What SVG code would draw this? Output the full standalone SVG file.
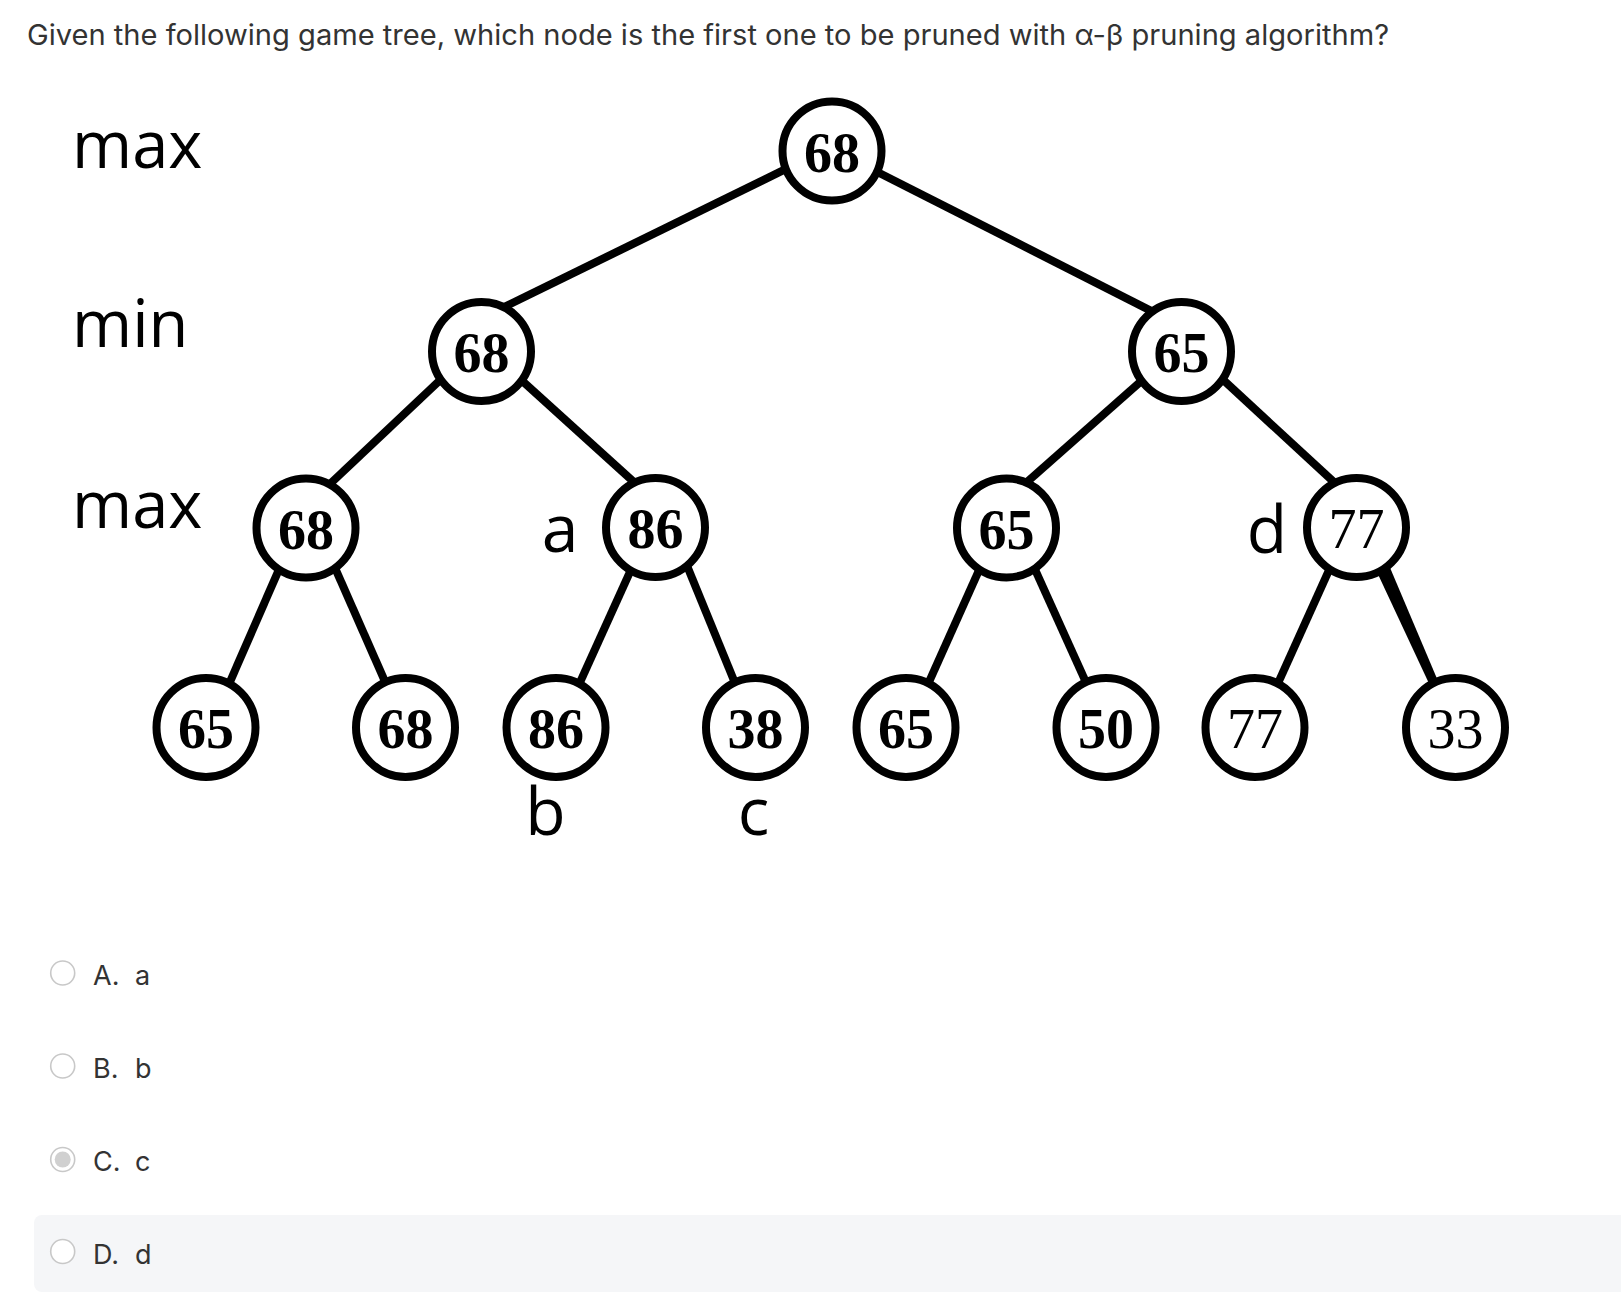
<svg xmlns="http://www.w3.org/2000/svg" width="1621" height="1304" viewBox="0 0 1621 1304">
<style>
.edge{stroke:#000;stroke-width:8;fill:none;stroke-linecap:butt}
.node circle{fill:#fff;stroke:#000;stroke-width:8}
.num{font-family:"Liberation Serif","Times New Roman",serif;font-weight:bold;font-size:56px;text-anchor:middle;fill:#000}
.reg{font-weight:normal}
.lvl{font-family:"Open Sans","Noto Sans",sans-serif;font-size:65px;fill:#000}
.lab{font-family:"Open Sans","Noto Sans",sans-serif;font-size:66px;fill:#000;text-anchor:middle}
.ui{font-family:Inter,"Noto Sans",sans-serif;fill:#333}
.radio{fill:#fff;stroke:#c8c8c8;stroke-width:1.6}
</style>
<rect x="0" y="0" width="1621" height="1304" fill="#fff"/>
<text class="ui" x="27" y="45" font-size="28" textLength="1362" lengthAdjust="spacingAndGlyphs">Given the following game tree, which node is the first one to be pruned with α-β pruning algorithm?</text>
<g id="levels">
<text class="lvl" x="72" y="168">max</text>
<text class="lvl" x="72" y="347">min</text>
<text class="lvl" x="72" y="528">max</text>
</g>
<g id="connectors">
<line class="edge" x1="791.6" y1="166.2" x2="499.3" y2="309.4"/>
<line class="edge" x1="871.9" y1="169.2" x2="1158.5" y2="314.6"/>
<line class="edge" x1="444.3" y1="376.1" x2="323.7" y2="489.9"/>
<line class="edge" x1="519.3" y1="378.3" x2="639.1" y2="486.7"/>
<line class="edge" x1="1144.7" y1="378" x2="1024.2" y2="484.6"/>
<line class="edge" x1="1220.9" y1="377.8" x2="1339" y2="486.8"/>
<line class="edge" x1="281.3" y1="564.1" x2="229" y2="684.2"/>
<line class="edge" x1="332.7" y1="562.6" x2="386.6" y2="685.2"/>
<line class="edge" x1="633.5" y1="564.2" x2="579.2" y2="684.1"/>
<line class="edge" x1="686.2" y1="563.7" x2="735.5" y2="684.3"/>
<line class="edge" x1="982.4" y1="562.6" x2="927.6" y2="685.1"/>
<line class="edge" x1="1032.6" y1="564.2" x2="1086.8" y2="684.1"/>
<line class="edge" x1="1332.4" y1="562.6" x2="1277.6" y2="684.1"/>
<polygon points="1387.4,561.4 1374.6,567 1431.7,689.2 1439.9,685.6" fill="#000"/>
</g>
<g id="root" class="node"><circle cx="832" cy="151" r="49.5"/><text class="num" x="832" y="172">68</text></g>
<g id="min-left" class="node"><circle cx="481.5" cy="351.5" r="49.5"/><text class="num" x="481.5" y="372">68</text></g>
<g id="min-right" class="node"><circle cx="1181.5" cy="351.5" r="49.5"/><text class="num" x="1181.5" y="372">65</text></g>
<g id="max-1" class="node"><circle cx="306" cy="528" r="49.5"/><text class="num" x="306" y="548.5">68</text></g>
<g id="max-a" class="node"><circle cx="655.5" cy="527.5" r="49.5"/><text class="num" x="655.5" y="548">86</text><text class="lab" x="560" y="552">a</text></g>
<g id="max-3" class="node"><circle cx="1006.5" cy="528" r="49.5"/><text class="num" x="1006.5" y="548.5">65</text></g>
<g id="max-d" class="node"><circle cx="1356.5" cy="527.5" r="49.5"/><text class="num reg" x="1356.5" y="548">77</text><text class="lab" x="1267" y="553">d</text></g>
<g id="leaf-1" class="node"><circle cx="206" cy="727.5" r="49.5"/><text class="num" x="206" y="748">65</text></g>
<g id="leaf-2" class="node"><circle cx="405.5" cy="727.5" r="49.5"/><text class="num" x="405.5" y="748">68</text></g>
<g id="leaf-b" class="node"><circle cx="556" cy="727.5" r="49.5"/><text class="num" x="556" y="748">86</text><text class="lab" x="545.5" y="835">b</text></g>
<g id="leaf-c" class="node"><circle cx="755.5" cy="727.5" r="49.5"/><text class="num" x="755.5" y="748">38</text><text class="lab" x="753.5" y="835">c</text></g>
<g id="leaf-5" class="node"><circle cx="906" cy="727.5" r="49.5"/><text class="num" x="906" y="748">65</text></g>
<g id="leaf-6" class="node"><circle cx="1106" cy="727.5" r="49.5"/><text class="num" x="1106" y="748">50</text></g>
<g id="leaf-7" class="node"><circle cx="1255" cy="727.5" r="49.5"/><text class="num reg" x="1255" y="748">77</text></g>
<g id="leaf-8" class="node"><circle cx="1455.5" cy="727.5" r="49.5"/><text class="num reg" x="1455.5" y="748">33</text></g>
<g id="options">
<rect x="34" y="1215" width="1620" height="77" rx="8" fill="#f5f6f8"/>
<circle class="radio" cx="62.7" cy="973" r="12"/>
<text class="ui" x="93" y="985" font-size="27">A.</text><text class="ui" x="135" y="985" font-size="27">a</text>
<circle class="radio" cx="62.7" cy="1066" r="12"/>
<text class="ui" x="93" y="1078" font-size="27">B.</text><text class="ui" x="135" y="1078" font-size="27">b</text>
<circle class="radio" cx="62.7" cy="1159.5" r="12"/>
<circle cx="62.7" cy="1159.5" r="8" fill="#d0d0d0"/>
<text class="ui" x="93" y="1171" font-size="27">C.</text><text class="ui" x="135" y="1171" font-size="27">c</text>
<circle class="radio" cx="62.7" cy="1251.5" r="12"/>
<text class="ui" x="93" y="1264" font-size="27">D.</text><text class="ui" x="135" y="1264" font-size="27">d</text>
</g>
</svg>
